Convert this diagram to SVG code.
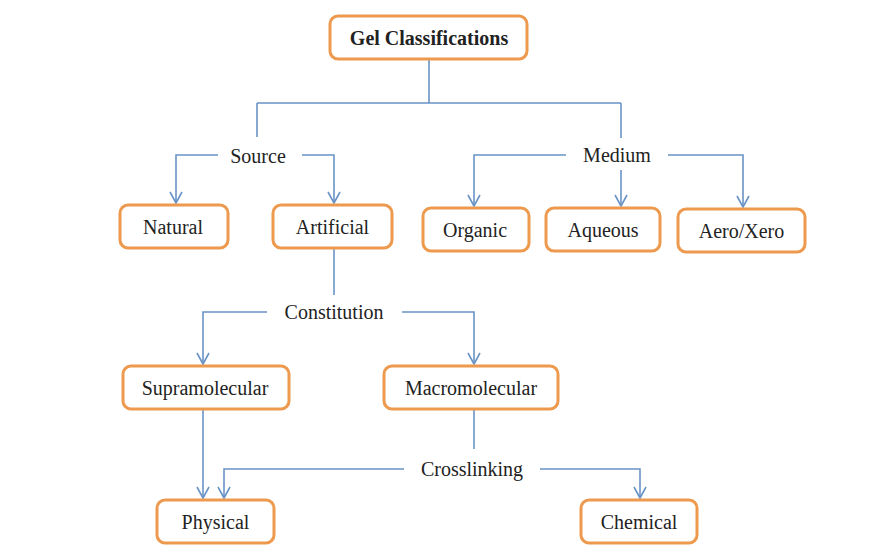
<svg xmlns="http://www.w3.org/2000/svg" width="895" height="552" viewBox="0 0 895 552">
<style>
.box{fill:#fff;stroke:#ED9A4F;stroke-width:3}
.t{font-family:'Liberation Serif','DejaVu Serif','Times New Roman',serif;font-size:20px;fill:#222;text-anchor:middle;dominant-baseline:central}
.b{font-weight:bold}
.c{fill:none;stroke:#6A93C6;stroke-width:1.6}
</style>
<defs>
<marker id="arr" viewBox="-7 -12 14 14" refX="0" refY="0" markerWidth="14" markerHeight="14" markerUnits="userSpaceOnUse" orient="0">
<path d="M-6,-11 L0,0 L6,-11" fill="none" stroke="#6A93C6" stroke-width="1.6"/>
</marker>
</defs>
<rect width="895" height="552" fill="#fff"/>
<g id="connectors">
<path class="c" d="M429,59 V103 M257,103 H621 M257,103 V137 M621,103 V138"/>
<path class="c" d="M218,155 H176 V203" marker-end="url(#arr)"/>
<path class="c" d="M302,155 H334 V203" marker-end="url(#arr)"/>
<path class="c" d="M566,155 H474 V206" marker-end="url(#arr)"/>
<path class="c" d="M621,170 V206" marker-end="url(#arr)"/>
<path class="c" d="M668,155 H743 V207" marker-end="url(#arr)"/>
<path class="c" d="M334,248 V295"/>
<path class="c" d="M267,312 H203 V364" marker-end="url(#arr)"/>
<path class="c" d="M402,312 H474 V364" marker-end="url(#arr)"/>
<path class="c" d="M203,409 V498" marker-end="url(#arr)"/>
<path class="c" d="M474,409 V449"/>
<path class="c" d="M404,469 H224 V498" marker-end="url(#arr)"/>
<path class="c" d="M540,469 H640 V498" marker-end="url(#arr)"/>
</g>
<g id="labels">
<text class="t" x="258" y="156">Source</text>
<text class="t" x="617" y="155">Medium</text>
<text class="t" x="334" y="312">Constitution</text>
<text class="t" x="472" y="469">Crosslinking</text>
</g>
<g id="gel"><rect class="box" x="330" y="16" width="197" height="43" rx="8"/><text class="t b" x="429" y="38">Gel Classifications</text></g>
<g id="natural"><rect class="box" x="120" y="205" width="108" height="43" rx="8"/><text class="t" x="173" y="227">Natural</text></g>
<g id="artificial"><rect class="box" x="273" y="205" width="119" height="43" rx="8"/><text class="t" x="332.5" y="227">Artificial</text></g>
<g id="organic"><rect class="box" x="423" y="208" width="106" height="43" rx="8"/><text class="t" x="475" y="230">Organic</text></g>
<g id="aqueous"><rect class="box" x="546" y="208" width="114" height="43" rx="8"/><text class="t" x="603" y="230">Aqueous</text></g>
<g id="aeroxero"><rect class="box" x="678" y="209" width="127" height="43" rx="8"/><text class="t" x="741.5" y="231">Aero/Xero</text></g>
<g id="supramolecular"><rect class="box" x="123" y="366" width="166" height="43" rx="8"/><text class="t" x="205" y="388">Supramolecular</text></g>
<g id="macromolecular"><rect class="box" x="384" y="366" width="174" height="43" rx="8"/><text class="t" x="471" y="388">Macromolecular</text></g>
<g id="physical"><rect class="box" x="157" y="500" width="117" height="43" rx="8"/><text class="t" x="215.5" y="522">Physical</text></g>
<g id="chemical"><rect class="box" x="581" y="500" width="116" height="43" rx="8"/><text class="t" x="639" y="522">Chemical</text></g>
</svg>
